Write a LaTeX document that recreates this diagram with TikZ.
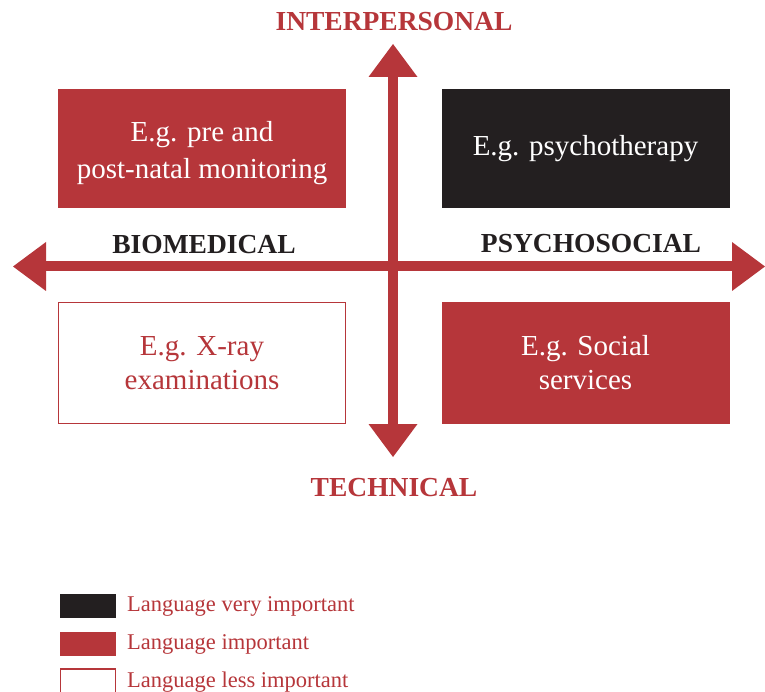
\documentclass[tikz,border=0pt]{standalone}
\usepackage{fontspec}
\setmainfont{Liberation Serif}
\usetikzlibrary{arrows.meta}
\definecolor{myred}{HTML}{B6363A}
\definecolor{myblack}{HTML}{231F20}
\tikzset{
  qbox/.style={minimum width=288pt, minimum height=119pt, inner sep=0pt, align=center,
    font=\fontsize{29}{34}\selectfont},
  redbox/.style={qbox, fill=myred, text=white},
  blackbox/.style={qbox, fill=myblack, text=white},
  whitebox/.style={qbox, draw=myred, line width=1.2pt, fill=white, text=myred},
  axislabel/.style={font=\fontsize{27.5}{30}\selectfont\bfseries, inner sep=0pt},
  axisarrow/.style={draw=myred, line width=10pt,
    {Triangle[length=33pt,width=49pt,line width=0pt]}-{Triangle[length=33pt,width=49pt,line width=0pt]}},
  legsq/.style={minimum width=56pt, minimum height=24pt, inner sep=0pt},
  legtext/.style={anchor=west, text=myred, font=\fontsize{22.5}{24}\selectfont, inner sep=0pt}
}
\begin{document}
\begin{tikzpicture}[x=1pt,y=-1pt]
\useasboundingbox (0,0) rectangle (765,692);
% boxes
\node[redbox] (tl) at (202,149) {};
\node[text=white, align=center, inner sep=0pt, font=\fontsize{29}{37}\selectfont] (tltext) at (202,153) {E.g. pre and\\post-natal monitoring};
\node[blackbox] (tr) at (585.5,148.5) {E.g. psychotherapy};
\node[whitebox, minimum width=287pt, minimum height=121pt] (bl) at (202,363) {E.g. X-ray\\examinations};
\node[redbox, minimum height=122pt] (br) at (585.5,363) {E.g. Social\\services};
% axes
\coordinate (left) at (13,266.5);
\coordinate (right) at (765,266.5);
\coordinate (top) at (393,44);
\coordinate (bottom) at (393,457);
\draw[axisarrow] (left) -- (right);
\draw[axisarrow] (top) -- (bottom);
% axis labels
\node[axislabel, text=myred] (ip) at (394,22) {INTERPERSONAL};
\node[axislabel, text=myred] (tech) at (394,488) {TECHNICAL};
\node[axislabel, text=myblack] (bio) at (204,245) {BIOMEDICAL};
\node[axislabel, text=myblack] (psy) at (591,244) {PSYCHOSOCIAL};
% legend
\node[legsq, fill=myblack] (l1) at (88,605.5) {};
\node[legsq, fill=myred] (l2) at (88,643.5) {};
\node[legsq, draw=myred, line width=1.2pt, fill=white, minimum width=55pt] (l3) at (88,681) {};
\node[legtext] (t1) at (127,606) {Language very important};
\node[legtext] (t2) at (127,644) {Language important};
\node[legtext] (t3) at (127,682) {Language less important};
\end{tikzpicture}
\end{document}
